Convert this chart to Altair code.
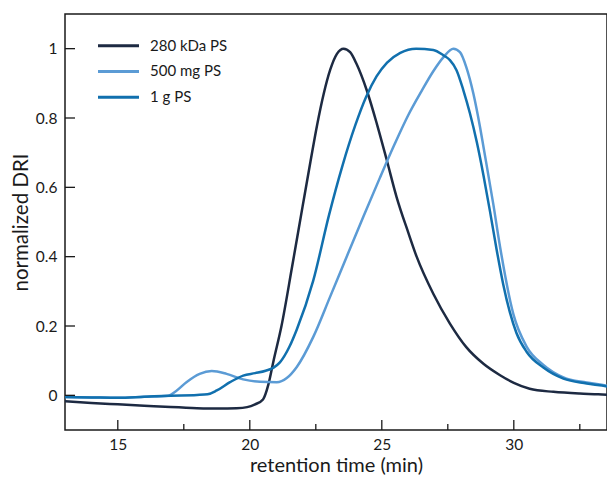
import altair as alt
import pandas as pd

series = ["280 kDa PS", "500 mg PS", "1 g PS"]
colors = ["#1d2a42", "#5b9bd5", "#1170ae"]

t_280 = [13.0, 14.0, 15.0, 16.0, 17.0, 18.0, 18.8, 19.5, 19.9, 20.2, 20.5, 20.7, 20.9,
         21.2, 21.6, 22.0, 22.3, 22.55, 22.8, 23.05, 23.3, 23.55, 23.8, 24.05, 24.43,
         24.81, 25.19, 25.56, 26.0, 26.32, 26.95, 27.58, 28.2, 28.85, 29.48, 30.0, 30.6,
         31.5, 32.5, 33.2, 33.8]
v_280 = [-0.017, -0.022, -0.026, -0.030, -0.034, -0.037, -0.038, -0.037, -0.034, -0.026,
         -0.012, 0.03, 0.10, 0.20, 0.37, 0.545, 0.675, 0.78, 0.87, 0.94, 0.985, 1.0, 0.99,
         0.955, 0.88, 0.784, 0.678, 0.572, 0.47, 0.40, 0.293, 0.207, 0.139, 0.091, 0.058,
         0.036, 0.019, 0.010, 0.005, 0.003, 0.0]

t_500 = [13.0, 14.0, 15.0, 16.0, 16.9, 17.2, 17.6, 18.1, 18.56, 19.12, 19.75, 20.39, 21.02,
         21.4, 21.78, 22.4, 23.04, 23.67, 24.3, 24.93, 25.5, 26.0, 26.5, 26.95, 27.33,
         27.71, 27.96, 28.2, 28.47, 28.72, 28.85, 29.22, 29.48, 29.98, 30.49, 31.12, 31.88,
         32.76, 33.6, 33.8]
v_500 = [-0.005, -0.006, -0.007, -0.004, -0.001, 0.012, 0.038, 0.062, 0.070, 0.062, 0.046,
         0.039, 0.038, 0.050, 0.082, 0.168, 0.284, 0.40, 0.515, 0.628, 0.727, 0.808, 0.877,
         0.935, 0.975, 1.0, 0.99, 0.947, 0.87, 0.774, 0.717, 0.553, 0.428, 0.235, 0.14,
         0.088, 0.052, 0.037, 0.026, 0.014]

t_1g = [13.0, 14.0, 15.0, 16.0, 17.0, 18.0, 18.4, 18.75, 19.25, 19.75, 20.2, 20.6, 20.9,
        21.14, 21.5, 21.78, 22.4, 23.0, 23.5, 24.0, 24.4, 24.8, 25.2, 25.7, 26.3,
        26.95, 27.33, 27.58, 27.83, 28.09, 28.34, 28.6, 28.85, 29.1, 29.35, 29.6, 29.85,
        30.1, 30.49, 31.12, 31.88, 32.76, 33.6, 33.8]
v_1g = [-0.005, -0.006, -0.007, -0.004, -0.001, 0.001, 0.003, 0.014, 0.038, 0.057, 0.064,
        0.071, 0.080, 0.095, 0.14, 0.19, 0.33, 0.52, 0.66, 0.78, 0.86, 0.92, 0.96, 0.988,
        1.0, 0.996, 0.981, 0.967, 0.938, 0.88, 0.813, 0.73, 0.635, 0.53, 0.42, 0.32, 0.24,
        0.18, 0.125, 0.08, 0.048, 0.034, 0.024, 0.012]

major_x = [15, 20, 25, 30]
minor_x = [17.5, 22.5, 27.5, 32.5]
y_ticks = [0, 0.2, 0.4, 0.6, 0.8, 1]

rows = []
for name, ts, vs in [(series[0], t_280, v_280), (series[1], t_500, v_500), (series[2], t_1g, v_1g)]:
    for t, v in zip(ts, vs):
        rows.append({"series": name, "t": t, "v": v})
df = pd.DataFrame(rows)

W, H = 542, 416
INK = "#1a1a1a"
FONT = "Lato"

xscale = alt.Scale(domain=[13, 33.53], nice=False, zero=False)
yscale = alt.Scale(domain=[-0.1, 1.1], nice=False, zero=False)
color = alt.Color("series:N", scale=alt.Scale(domain=series, range=colors), legend=None)

lines = alt.Chart(df).mark_line(strokeWidth=2.5, interpolate="monotone", clip=True).encode(
    x=alt.X("t:Q", scale=xscale,
            axis=alt.Axis(title="retention time (min)", values=major_x, ticks=False,
                          domain=False, grid=False, labelPadding=7, titlePadding=3,
                          titleFontSize=20, format="d")),
    y=alt.Y("v:Q", scale=yscale,
            axis=alt.Axis(title="normalized DRI", values=y_ticks, ticks=False,
                          domain=False, grid=False, labelPadding=8, titlePadding=4,
                          titleFontSize=20.5, format=".1~f")),
    color=color,
    detail="series:N",
)

xt_major = alt.Chart(pd.DataFrame({"t": major_x})).mark_rule(color=INK, strokeWidth=1.3).encode(
    x=alt.X("t:Q", scale=xscale), y=alt.value(H), y2=alt.value(H - 10))
xt_minor = alt.Chart(pd.DataFrame({"t": minor_x})).mark_rule(color=INK, strokeWidth=1.3).encode(
    x=alt.X("t:Q", scale=xscale), y=alt.value(H), y2=alt.value(H - 6))
yt = alt.Chart(pd.DataFrame({"v": y_ticks})).mark_rule(color=INK, strokeWidth=1.3).encode(
    y=alt.Y("v:Q", scale=yscale), x=alt.value(0), x2=alt.value(10))

base = alt.layer(lines, xt_major, xt_minor, yt)

leg_df = pd.DataFrame({"series": series})
leg_y = alt.Y("series:N", scale=alt.Scale(type="point", domain=series, range=[31.7, 83.2], padding=0),
              axis=None)
leg_rule = alt.Chart(leg_df).mark_rule(strokeWidth=3).encode(
    x=alt.value(33), x2=alt.value(74), y=leg_y, color=color)
leg_text = alt.Chart(leg_df).mark_text(align="left", baseline="middle", fontSize=15,
                                       font=FONT, color=INK).encode(
    x=alt.value(85), y=leg_y, text="series:N")
legend = alt.layer(leg_rule, leg_text)

chart = alt.layer(base, legend).resolve_scale(y="independent").properties(
    width=W, height=H,
    autosize=alt.AutoSizeParams(type="none"),
    padding={"left": 57, "top": 6, "right": 0, "bottom": 46},
).configure_view(stroke=INK, strokeWidth=1.5).configure_axis(
    labelFont=FONT, titleFont=FONT, labelFontSize=15.5,
    labelColor=INK, titleColor=INK, titleFontWeight="normal",
)

chart.save("out.html", embed_options={"renderer": "svg", "actions": False})
